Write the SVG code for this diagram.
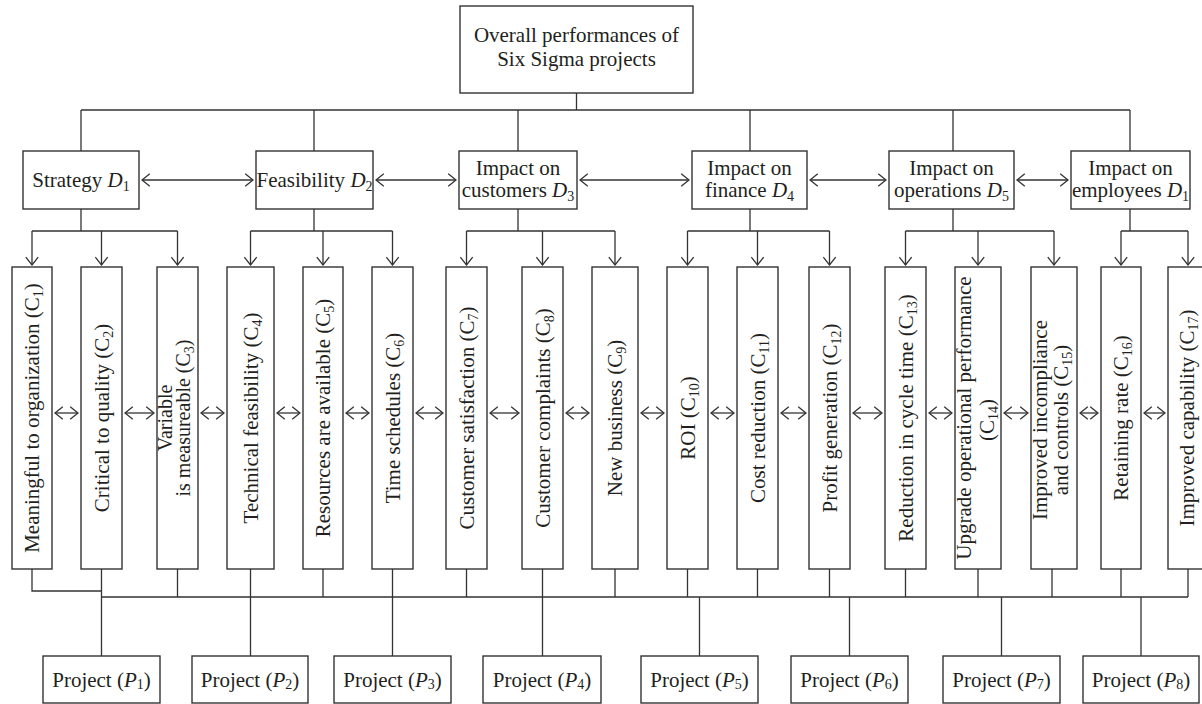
<svg xmlns="http://www.w3.org/2000/svg" width="1202" height="704" viewBox="0 0 1202 704">
<style>
text{font-family:"Liberation Serif","Times New Roman",serif;font-size:21px;fill:#231f20}
.m{text-anchor:middle}
.i{font-style:italic}
.sb{font-size:14px}
.c3{font-size:20px}
rect{fill:#fff;stroke:#333;stroke-width:1.4}
.ln{fill:none;stroke:#333;stroke-width:1.3}
.da{fill:none;stroke:#333;stroke-width:1.3;marker-start:url(#ah);marker-end:url(#ah)}
.sa{fill:none;stroke:#333;stroke-width:1.3;marker-end:url(#ah)}
</style>
<defs>
<marker id="ah" viewBox="0 0 10 14" refX="9.3" refY="7" markerWidth="10" markerHeight="14" markerUnits="userSpaceOnUse" orient="auto-start-reverse">
<path d="M1.5,0.8 L9.3,7 L1.5,13.2" fill="none" stroke="#333" stroke-width="1.3"/>
</marker>
</defs>
<rect x="0" y="0" width="1202" height="704" style="fill:#fff;stroke:none"/>

<g id="connectors">
<!-- top tree -->
<path class="ln" d="M576.5,93 V110 M81,110 H1130 M81,110 V151 M314,110 V151 M518,110 V151 M750,110 V151 M953,110 V151 M1130,110 V151"/>
<!-- D double arrows -->
<path class="da" d="M142,180 H253"/>
<path class="da" d="M376,180 H456"/>
<path class="da" d="M580,180 H689"/>
<path class="da" d="M810,180 H886"/>
<path class="da" d="M1017,180 H1068"/>
<!-- D to C branches -->
<path class="ln" d="M81,209 V231 M32,231 H177.5 M314,209 V231 M250.5,231 H392.5 M518,209 V231 M466.5,231 H615 M750,209 V231 M687.5,231 H829.5 M953,209 V231 M905.5,231 H1054 M1130,209 V231 M1121,231 H1188"/>
<path class="sa" d="M32,231 V265"/>
<path class="sa" d="M101.5,231 V265"/>
<path class="sa" d="M177.5,231 V265"/>
<path class="sa" d="M250.5,231 V265"/>
<path class="sa" d="M323,231 V265"/>
<path class="sa" d="M392.5,231 V265"/>
<path class="sa" d="M466.5,231 V265"/>
<path class="sa" d="M542.5,231 V265"/>
<path class="sa" d="M615,231 V265"/>
<path class="sa" d="M687.5,231 V265"/>
<path class="sa" d="M757.5,231 V265"/>
<path class="sa" d="M829.5,231 V265"/>
<path class="sa" d="M905.5,231 V265"/>
<path class="sa" d="M978,231 V265"/>
<path class="sa" d="M1054,231 V265"/>
<path class="sa" d="M1121,231 V265"/>
<path class="sa" d="M1188,231 V265"/>
<!-- C double arrows -->
<path class="da" d="M55,413 H78"/>
<path class="da" d="M125,413 H154"/>
<path class="da" d="M201,413 H224"/>
<path class="da" d="M277,413 H300"/>
<path class="da" d="M346,413 H369"/>
<path class="da" d="M416,413 H443"/>
<path class="da" d="M490,413 H519"/>
<path class="da" d="M566,413 H589"/>
<path class="da" d="M641,413 H664"/>
<path class="da" d="M711,413 H734"/>
<path class="da" d="M781,413 H806"/>
<path class="da" d="M853,413 H882"/>
<path class="da" d="M929,413 H952"/>
<path class="da" d="M1004,413 H1028"/>
<path class="da" d="M1080,413 H1098"/>
<path class="da" d="M1144,413 H1165"/>
<!-- bottom bus -->
<path class="ln" d="M32,569 V591 H101.5 M101.5,597 H1188 M101.5,569 V656 M177.5,569 V597 M250.5,569 V656 M323,569 V597 M392.5,569 V656 M466.5,569 V597 M542.5,569 V656 M615,569 V597 M687.5,569 V597 M757.5,569 V597 M829.5,569 V597 M905.5,569 V597 M978,569 V597 M1052,569 V597 M1121,569 V597 M1188,569 V597 M699.5,597 V656 M849.5,597 V656 M1001.5,597 V656 M1141,597 V656"/>
</g>

<g id="top">
<rect x="460" y="6" width="233" height="87"/>
<text class="m" x="576.5" y="42">Overall performances of</text>
<text class="m" x="576.5" y="66">Six Sigma projects</text>
</g>

<g id="D1"><rect x="23" y="151" width="116" height="58"/>
<text class="m" x="81" y="187">Strategy <tspan class="i">D</tspan><tspan class="sb" dy="4">1</tspan></text></g>
<g id="D2"><rect x="256" y="151" width="117" height="58"/>
<text class="m" x="314.5" y="187">Feasibility <tspan class="i">D</tspan><tspan class="sb" dy="4">2</tspan></text></g>
<g id="D3"><rect x="459" y="151" width="118" height="58"/>
<text class="m" x="518" y="175">Impact on</text>
<text class="m" x="518" y="197">customers <tspan class="i">D</tspan><tspan class="sb" dy="4">3</tspan></text></g>
<g id="D4"><rect x="692" y="151" width="115" height="58"/>
<text class="m" x="749.5" y="175">Impact on</text>
<text class="m" x="749.5" y="197">finance <tspan class="i">D</tspan><tspan class="sb" dy="4">4</tspan></text></g>
<g id="D5"><rect x="889" y="151" width="125" height="58"/>
<text class="m" x="951.5" y="175">Impact on</text>
<text class="m" x="951.5" y="197">operations <tspan class="i">D</tspan><tspan class="sb" dy="4">5</tspan></text></g>
<g id="D6"><rect x="1071" y="151" width="119" height="58"/>
<text class="m" x="1130.5" y="175">Impact on</text>
<text class="m" x="1130.5" y="197">employees <tspan class="i">D</tspan><tspan class="sb" dy="4">1</tspan></text></g>

<g id="C1"><rect x="12" y="267" width="40" height="302"/>
<text class="m" transform="translate(39,418) rotate(-90)">Meaningful to organization (C<tspan class="sb" dy="4">1</tspan><tspan dy="-4">)</tspan></text></g>
<g id="C2"><rect x="81" y="267" width="41" height="302"/>
<text class="m" transform="translate(108.5,418) rotate(-90)">Critical to quality (C<tspan class="sb" dy="4">2</tspan><tspan dy="-4">)</tspan></text></g>
<g id="C3"><rect x="157" y="267" width="41" height="302"/>
<text class="m c3" transform="translate(172,418) rotate(-90)">Variable</text>
<text class="m c3" transform="translate(190,418) rotate(-90)">is measureable (C<tspan class="sb" dy="4">3</tspan><tspan dy="-4">)</tspan></text></g>
<g id="C4"><rect x="227" y="267" width="47" height="302"/>
<text class="m" transform="translate(257.5,418) rotate(-90)">Technical feasibility (C<tspan class="sb" dy="4">4</tspan><tspan dy="-4">)</tspan></text></g>
<g id="C5"><rect x="303" y="267" width="40" height="302"/>
<text class="m" transform="translate(330,418) rotate(-90)">Resources are available (C<tspan class="sb" dy="4">5</tspan><tspan dy="-4">)</tspan></text></g>
<g id="C6"><rect x="372" y="267" width="41" height="302"/>
<text class="m" transform="translate(399.5,418) rotate(-90)">Time schedules (C<tspan class="sb" dy="4">6</tspan><tspan dy="-4">)</tspan></text></g>
<g id="C7"><rect x="446" y="267" width="41" height="302"/>
<text class="m" transform="translate(473.5,418) rotate(-90)">Customer satisfaction (C<tspan class="sb" dy="4">7</tspan><tspan dy="-4">)</tspan></text></g>
<g id="C8"><rect x="522" y="267" width="41" height="302"/>
<text class="m" transform="translate(549.5,418) rotate(-90)">Customer complaints (C<tspan class="sb" dy="4">8</tspan><tspan dy="-4">)</tspan></text></g>
<g id="C9"><rect x="592" y="267" width="46" height="302"/>
<text class="m" transform="translate(622,418) rotate(-90)">New business (C<tspan class="sb" dy="4">9</tspan><tspan dy="-4">)</tspan></text></g>
<g id="C10"><rect x="667" y="267" width="41" height="302"/>
<text class="m" transform="translate(694.5,418) rotate(-90)">ROI (C<tspan class="sb" dy="4">10</tspan><tspan dy="-4">)</tspan></text></g>
<g id="C11"><rect x="737" y="267" width="41" height="302"/>
<text class="m" transform="translate(764.5,418) rotate(-90)">Cost reduction (C<tspan class="sb" dy="4">11</tspan><tspan dy="-4">)</tspan></text></g>
<g id="C12"><rect x="809" y="267" width="41" height="302"/>
<text class="m" transform="translate(836.5,418) rotate(-90)">Profit generation (C<tspan class="sb" dy="4">12</tspan><tspan dy="-4">)</tspan></text></g>
<g id="C13"><rect x="885" y="267" width="41" height="302"/>
<text class="m" transform="translate(912.5,418) rotate(-90)">Reduction in cycle time (C<tspan class="sb" dy="4">13</tspan><tspan dy="-4">)</tspan></text></g>
<g id="C14"><rect x="955" y="267" width="46" height="302"/>
<text class="m" transform="translate(971,418) rotate(-90)">Upgrade operational performance</text>
<text class="m" transform="translate(994,420) rotate(-90)">(C<tspan class="sb" dy="4">14</tspan><tspan dy="-4">)</tspan></text></g>
<g id="C15"><rect x="1031" y="267" width="46" height="302"/>
<text class="m" transform="translate(1047,420) rotate(-90)">Improved incompliance</text>
<text class="m" transform="translate(1068,420) rotate(-90)">and controls (C<tspan class="sb" dy="4">15</tspan><tspan dy="-4">)</tspan></text></g>
<g id="C16"><rect x="1101" y="267" width="40" height="302"/>
<text class="m" transform="translate(1128,418) rotate(-90)">Retaining rate (C<tspan class="sb" dy="4">16</tspan><tspan dy="-4">)</tspan></text></g>
<g id="C17"><rect x="1168" y="267" width="40" height="302"/>
<text class="m" transform="translate(1194,418) rotate(-90)">Improved capability (C<tspan class="sb" dy="4">17</tspan><tspan dy="-4">)</tspan></text></g>

<g id="P1"><rect x="43" y="656" width="117" height="47"/>
<text class="m" x="101.5" y="687">Project (<tspan class="i">P</tspan><tspan class="sb" dy="2">1</tspan><tspan dy="-2">)</tspan></text></g>
<g id="P2"><rect x="192" y="656" width="116" height="47"/>
<text class="m" x="250" y="687">Project (<tspan class="i">P</tspan><tspan class="sb" dy="2">2</tspan><tspan dy="-2">)</tspan></text></g>
<g id="P3"><rect x="334" y="656" width="117" height="47"/>
<text class="m" x="392.5" y="687">Project (<tspan class="i">P</tspan><tspan class="sb" dy="2">3</tspan><tspan dy="-2">)</tspan></text></g>
<g id="P4"><rect x="483" y="656" width="118" height="47"/>
<text class="m" x="542" y="687">Project (<tspan class="i">P</tspan><tspan class="sb" dy="2">4</tspan><tspan dy="-2">)</tspan></text></g>
<g id="P5"><rect x="641" y="656" width="117" height="47"/>
<text class="m" x="699.5" y="687">Project (<tspan class="i">P</tspan><tspan class="sb" dy="2">5</tspan><tspan dy="-2">)</tspan></text></g>
<g id="P6"><rect x="791" y="656" width="117" height="47"/>
<text class="m" x="849.5" y="687">Project (<tspan class="i">P</tspan><tspan class="sb" dy="2">6</tspan><tspan dy="-2">)</tspan></text></g>
<g id="P7"><rect x="943" y="656" width="117" height="47"/>
<text class="m" x="1001.5" y="687">Project (<tspan class="i">P</tspan><tspan class="sb" dy="2">7</tspan><tspan dy="-2">)</tspan></text></g>
<g id="P8"><rect x="1083" y="656" width="116" height="47"/>
<text class="m" x="1141" y="687">Project (<tspan class="i">P</tspan><tspan class="sb" dy="2">8</tspan><tspan dy="-2">)</tspan></text></g>
</svg>
